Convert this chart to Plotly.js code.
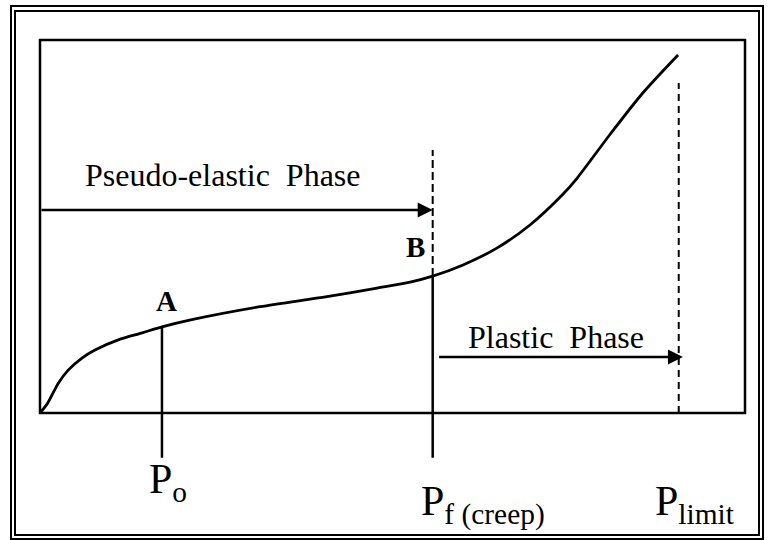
<!DOCTYPE html>
<html>
<head>
<meta charset="utf-8">
<script src="https://cdn.plot.ly/plotly-3.0.1.min.js"></script>
<style>html,body{margin:0;padding:0;background:#fff}#chart{width:768px;height:540px}</style>
</head>
<body>
<div id="chart"></div>
<script>
// Load–settlement curve (arbitrary units: load 0..100, settlement 0..100)
const loadX = [0, 1.1, 2.6, 4.0, 6.0, 7.8, 11.1, 14.5, 17.3, 21.7, 31.2, 40.7, 47.8, 52.5, 55.7, 60.0, 64.8, 69.5, 74.2, 76.2, 80.9, 85.5, 90.5];
const settleY = [0, 2.7, 8.0, 11.5, 14.8, 16.9, 19.6, 21.5, 23.1, 25.1, 28.5, 31.2, 33.5, 35.1, 36.7, 39.7, 44.2, 50.4, 58.7, 63.0, 74.8, 85.8, 96.0];

// Key loads and the settlement of the curve at those loads
const keyNames = ['Po', 'Pf', 'Plimit'];
const keyLoads = [17.3, 55.7, 90.6];
const keyCurveY = [23.1, 36.7, 0];
const keyLabels = ['P<sub>o</sub>', 'P<sub>f (creep)</sub>', 'P<sub>limit</sub>'];
const pointLabels = ['A', 'B'];

const FONT = '"Liberation Serif", "Times New Roman", serif';
const BLACK = '#000';

const traces = [{
  x: loadX, y: settleY, type: 'scatter', mode: 'lines',
  line: {color: BLACK, width: 2.8, shape: 'spline', smoothing: 0.8},
  hoverinfo: 'skip', showlegend: false
}];

const below = -12;
const shapes = [
  // outer double frame
  {type: 'rect', xref: 'paper', yref: 'paper', x0: 11/768, x1: 763/768, y0: 1 - 539/540, y1: 1 - 6/540, line: {color: BLACK, width: 2}},
  {type: 'rect', xref: 'paper', yref: 'paper', x0: 15/768, x1: 759/768, y0: 1 - 535/540, y1: 1 - 11/540, line: {color: BLACK, width: 2}},
  // plot frame
  {type: 'rect', xref: 'x', yref: 'y', x0: 0, x1: 100, y0: 0, y1: 100, line: {color: BLACK, width: 2.5}},
  // Po line
  {type: 'line', xref: 'x', yref: 'y', x0: keyLoads[0], x1: keyLoads[0], y0: below, y1: keyCurveY[0], line: {color: BLACK, width: 2.5}},
  // Pf solid line
  {type: 'line', xref: 'x', yref: 'y', x0: keyLoads[1], x1: keyLoads[1], y0: below, y1: keyCurveY[1], line: {color: BLACK, width: 2.5}},
  // Pf dashed continuation
  {type: 'line', xref: 'x', yref: 'y', x0: keyLoads[1], x1: keyLoads[1], y0: keyCurveY[1], y1: 70.5, line: {color: BLACK, width: 2, dash: '8px,4px'}},
  // Plimit dashed
  {type: 'line', xref: 'x', yref: 'y', x0: keyLoads[2], x1: keyLoads[2], y0: 0, y1: 88.5, line: {color: BLACK, width: 2, dash: '7px,5px'}}
];

const annotations = [
  // Pseudo-elastic arrow
  {x: keyLoads[1], y: 54.4, ax: 0, ay: 54.4, xref: 'x', yref: 'y', axref: 'x', ayref: 'y', text: '', showarrow: true, arrowhead: 2, arrowwidth: 2.5, arrowsize: 1.2, arrowcolor: BLACK, standoff: 0, startstandoff: 0},
  {x: 25.9, y: 63.8, xref: 'x', yref: 'y', text: 'Pseudo-elastic\u00a0\u00a0Phase', showarrow: false, xanchor: 'center', yanchor: 'middle', font: {family: FONT, size: 32, color: BLACK}},
  // Plastic arrow
  {x: 91.2, y: 15.0, ax: 56.4, ay: 15.0, xref: 'x', yref: 'y', axref: 'x', ayref: 'y', text: '', showarrow: true, arrowhead: 2, arrowwidth: 2.5, arrowsize: 1.2, arrowcolor: BLACK, standoff: 0, startstandoff: 0},
  {x: 73.2, y: 20.4, xref: 'x', yref: 'y', text: 'Plastic\u00a0\u00a0Phase', showarrow: false, xanchor: 'center', yanchor: 'middle', font: {family: FONT, size: 32, color: BLACK}},
  // point labels
  {x: 17.9, y: 30.0, xref: 'x', yref: 'y', text: '<b>' + pointLabels[0] + '</b>', showarrow: false, xanchor: 'center', yanchor: 'middle', font: {family: FONT, size: 29, color: BLACK}},
  {x: 53.3, y: 44.5, xref: 'x', yref: 'y', text: '<b>' + pointLabels[1] + '</b>', showarrow: false, xanchor: 'center', yanchor: 'middle', font: {family: FONT, size: 29, color: BLACK}},
  // load labels
  {x: 18.2, y: -18.5, xref: 'x', yref: 'y', text: keyLabels[0], showarrow: false, xanchor: 'center', yanchor: 'middle', font: {family: FONT, size: 42, color: BLACK}},
  {x: 62.9, y: -24.4, xref: 'x', yref: 'y', text: keyLabels[1], showarrow: false, xanchor: 'center', yanchor: 'middle', font: {family: FONT, size: 42, color: BLACK}},
  {x: 92.9, y: -24.4, xref: 'x', yref: 'y', text: keyLabels[2], showarrow: false, xanchor: 'center', yanchor: 'middle', font: {family: FONT, size: 42, color: BLACK}}
];

const layout = {
  width: 768, height: 540,
  margin: {l: 0, r: 0, t: 0, b: 0, pad: 0},
  paper_bgcolor: '#fff', plot_bgcolor: '#fff',
  showlegend: false,
  xaxis: {range: [-40/7.05, 728/7.05], showgrid: false, zeroline: false, showticklabels: false, ticks: '', showline: false, fixedrange: true},
  yaxis: {range: [-127/3.73, 413/3.73], showgrid: false, zeroline: false, showticklabels: false, ticks: '', showline: false, fixedrange: true},
  shapes: shapes,
  annotations: annotations
};

Plotly.newPlot('chart', traces, layout, {displayModeBar: false, staticPlot: true});
</script>
</body>
</html>
